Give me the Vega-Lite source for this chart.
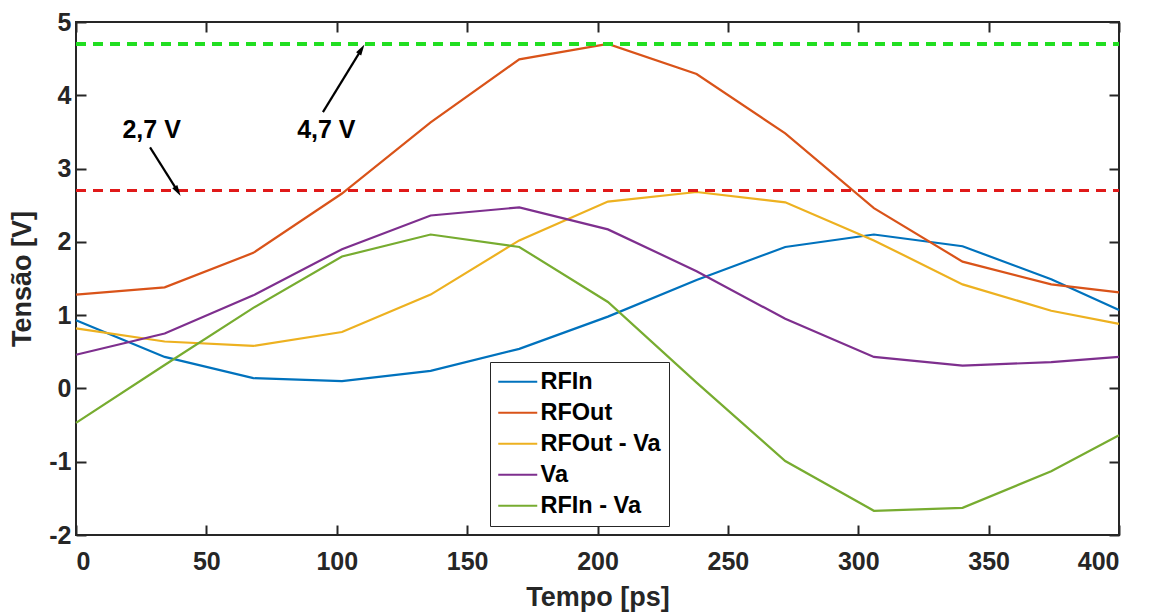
{
  "$schema": "https://vega.github.io/schema/vega-lite/v6.json",
  "autosize": {"type": "none"},
  "width": 1043,
  "height": 513,
  "padding": {"left": 76, "top": 22, "right": 30, "bottom": 78},
  "background": "white",
  "config": {
    "view": {"stroke": "#262626", "strokeWidth": 2},
    "font": "Liberation Sans",
    "axis": {
      "grid": false,
      "domain": false,
      "labelFont": "Liberation Sans",
      "labelFontWeight": "bold",
      "labelFontSize": 25,
      "labelColor": "#262626",
      "titleFont": "Liberation Sans",
      "titleFontWeight": "bold",
      "titleFontSize": 27,
      "titleColor": "#262626",
      "tickColor": "#262626",
      "tickWidth": 2,
      "tickSize": -10
    }
  },
  "datasets": {
    "series": [
      {"t": 0, "v": 0.93, "s": "RFIn"}, {"t": 34, "v": 0.43, "s": "RFIn"}, {"t": 68, "v": 0.14, "s": "RFIn"}, {"t": 102, "v": 0.10, "s": "RFIn"}, {"t": 136, "v": 0.24, "s": "RFIn"}, {"t": 170, "v": 0.54, "s": "RFIn"}, {"t": 204, "v": 0.98, "s": "RFIn"}, {"t": 238, "v": 1.48, "s": "RFIn"}, {"t": 272, "v": 1.93, "s": "RFIn"}, {"t": 306, "v": 2.10, "s": "RFIn"}, {"t": 340, "v": 1.94, "s": "RFIn"}, {"t": 374, "v": 1.49, "s": "RFIn"}, {"t": 400, "v": 1.07, "s": "RFIn"},
      {"t": 0, "v": 1.28, "s": "RFOut"}, {"t": 34, "v": 1.38, "s": "RFOut"}, {"t": 68, "v": 1.85, "s": "RFOut"}, {"t": 102, "v": 2.66, "s": "RFOut"}, {"t": 136, "v": 3.63, "s": "RFOut"}, {"t": 170, "v": 4.49, "s": "RFOut"}, {"t": 204, "v": 4.70, "s": "RFOut"}, {"t": 238, "v": 4.29, "s": "RFOut"}, {"t": 272, "v": 3.48, "s": "RFOut"}, {"t": 306, "v": 2.46, "s": "RFOut"}, {"t": 340, "v": 1.73, "s": "RFOut"}, {"t": 374, "v": 1.42, "s": "RFOut"}, {"t": 400, "v": 1.31, "s": "RFOut"},
      {"t": 0, "v": 0.82, "s": "RFOut - Va"}, {"t": 34, "v": 0.64, "s": "RFOut - Va"}, {"t": 68, "v": 0.58, "s": "RFOut - Va"}, {"t": 102, "v": 0.77, "s": "RFOut - Va"}, {"t": 136, "v": 1.28, "s": "RFOut - Va"}, {"t": 170, "v": 2.02, "s": "RFOut - Va"}, {"t": 204, "v": 2.55, "s": "RFOut - Va"}, {"t": 238, "v": 2.68, "s": "RFOut - Va"}, {"t": 272, "v": 2.54, "s": "RFOut - Va"}, {"t": 306, "v": 2.02, "s": "RFOut - Va"}, {"t": 340, "v": 1.42, "s": "RFOut - Va"}, {"t": 374, "v": 1.06, "s": "RFOut - Va"}, {"t": 400, "v": 0.88, "s": "RFOut - Va"},
      {"t": 0, "v": 0.46, "s": "Va"}, {"t": 34, "v": 0.75, "s": "Va"}, {"t": 68, "v": 1.27, "s": "Va"}, {"t": 102, "v": 1.90, "s": "Va"}, {"t": 136, "v": 2.36, "s": "Va"}, {"t": 170, "v": 2.47, "s": "Va"}, {"t": 204, "v": 2.17, "s": "Va"}, {"t": 238, "v": 1.60, "s": "Va"}, {"t": 272, "v": 0.95, "s": "Va"}, {"t": 306, "v": 0.43, "s": "Va"}, {"t": 340, "v": 0.31, "s": "Va"}, {"t": 374, "v": 0.36, "s": "Va"}, {"t": 400, "v": 0.43, "s": "Va"},
      {"t": 0, "v": -0.47, "s": "RFIn - Va"}, {"t": 34, "v": 0.32, "s": "RFIn - Va"}, {"t": 68, "v": 1.10, "s": "RFIn - Va"}, {"t": 102, "v": 1.80, "s": "RFIn - Va"}, {"t": 136, "v": 2.10, "s": "RFIn - Va"}, {"t": 170, "v": 1.93, "s": "RFIn - Va"}, {"t": 204, "v": 1.18, "s": "RFIn - Va"}, {"t": 238, "v": 0.08, "s": "RFIn - Va"}, {"t": 272, "v": -0.99, "s": "RFIn - Va"}, {"t": 306, "v": -1.67, "s": "RFIn - Va"}, {"t": 340, "v": -1.63, "s": "RFIn - Va"}, {"t": 374, "v": -1.13, "s": "RFIn - Va"}, {"t": 400, "v": -0.64, "s": "RFIn - Va"}
    ],
    "labels": [
      {"t": 29, "v": 3.52, "label": "2,7 V"},
      {"t": 96, "v": 3.52, "label": "4,7 V"}
    ],
    "arrow27": [
      {"t": 28.4, "v": 3.29}, {"t": 38.5, "v": 2.72}
    ],
    "arrow47": [
      {"t": 94.7, "v": 3.77}, {"t": 109.0, "v": 4.6}
    ]
  },
  "resolve": {"axis": {"x": "independent", "y": "independent"}},
  "layer": [
    {
      "data": {"name": "series"},
      "mark": {"type": "line", "strokeWidth": 2.2},
      "encoding": {
        "x": {"field": "t", "type": "quantitative", "scale": {"domain": [0, 400], "nice": false}, "axis": {"title": "Tempo [ps]", "values": [0, 50, 100, 150, 200, 250, 300, 350, 400], "labelPadding": 24, "titlePadding": 10}},
        "y": {"field": "v", "type": "quantitative", "scale": {"domain": [-2, 5], "nice": false}, "axis": {"title": "Tensão [V]", "values": [-2, -1, 0, 1, 2, 3, 4, 5], "labelExpr": "'' + datum.value", "labelPadding": 15, "titlePadding": 12}},
        "color": {
          "field": "s", "type": "nominal",
          "scale": {"domain": ["RFIn", "RFOut", "RFOut - Va", "Va", "RFIn - Va"], "range": ["#0072BD", "#D95319", "#EDB120", "#7E2F8E", "#77AC30"]},
          "legend": {
            "title": null, "orient": "none", "legendX": 414, "legendY": 340,
            "symbolType": "M-2,0H2", "symbolSize": 380, "symbolStrokeWidth": 2.2, "symbolOffset": 8,
            "labelFont": "Liberation Sans", "labelFontWeight": "bold", "labelFontSize": 23.5, "labelColor": "#000000",
            "strokeColor": "#262626", "fillColor": "white", "padding": 8, "rowPadding": 6, "labelOffset": 11
          }
        },
        "detail": {"field": "s"}
      }
    },
    {
      "data": {"name": "series"},
      "mark": {"type": "rule", "color": "#22dd22", "strokeWidth": 2.5, "strokeDash": [10, 7]},
      "encoding": {
        "y": {"datum": 4.7, "type": "quantitative", "axis": {"orient": "right", "labels": false, "title": null, "values": [-2, -1, 0, 1, 2, 3, 4, 5]}},
        "x": {"datum": 0, "type": "quantitative", "axis": {"orient": "top", "labels": false, "title": null, "values": [0, 50, 100, 150, 200, 250, 300, 350, 400]}},
        "x2": {"datum": 400}
      }
    },
    {
      "data": {"name": "series"},
      "mark": {"type": "rule", "color": "#e01a1a", "strokeWidth": 2.5, "strokeDash": [10, 7]},
      "encoding": {
        "y": {"datum": 2.7, "type": "quantitative", "axis": null},
        "x": {"datum": 0, "type": "quantitative", "axis": null},
        "x2": {"datum": 400}
      }
    },
    {
      "data": {"name": "labels"},
      "mark": {"type": "text", "font": "Liberation Sans", "fontWeight": "bold", "fontSize": 25, "color": "#000000", "align": "center", "baseline": "middle"},
      "encoding": {
        "x": {"field": "t", "type": "quantitative", "axis": null},
        "y": {"field": "v", "type": "quantitative", "axis": null},
        "text": {"field": "label"}
      }
    },
    {
      "data": {"name": "arrow27"},
      "mark": {"type": "line", "color": "#000000", "strokeWidth": 2.2},
      "encoding": {
        "x": {"field": "t", "type": "quantitative", "axis": null},
        "y": {"field": "v", "type": "quantitative", "axis": null}
      }
    },
    {
      "data": {"name": "arrow47"},
      "mark": {"type": "line", "color": "#000000", "strokeWidth": 2.2},
      "encoding": {
        "x": {"field": "t", "type": "quantitative", "axis": null},
        "y": {"field": "v", "type": "quantitative", "axis": null}
      }
    },
    {
      "data": {"name": "arrow27"},
      "transform": [{"filter": "datum.v < 3"}],
      "mark": {"type": "point", "shape": "M0,-1.6L0.6,0.6L-0.6,0.6Z", "filled": true, "color": "#000000", "size": 100, "angle": 148, "opacity": 1},
      "encoding": {
        "x": {"field": "t", "type": "quantitative", "axis": null},
        "y": {"field": "v", "type": "quantitative", "axis": null}
      }
    },
    {
      "data": {"name": "arrow47"},
      "transform": [{"filter": "datum.v > 4"}],
      "mark": {"type": "point", "shape": "M0,-1.6L0.6,0.6L-0.6,0.6Z", "filled": true, "color": "#000000", "size": 100, "angle": 32, "opacity": 1},
      "encoding": {
        "x": {"field": "t", "type": "quantitative", "axis": null},
        "y": {"field": "v", "type": "quantitative", "axis": null}
      }
    }
  ]
}
